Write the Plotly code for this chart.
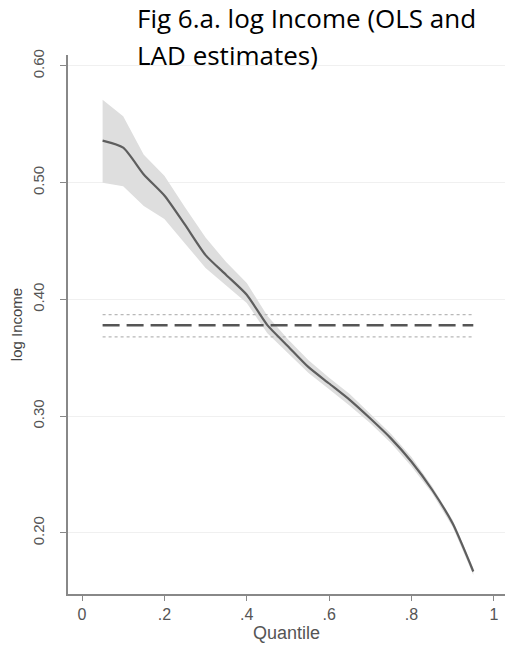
import plotly.graph_objects as go

quantiles = [0.05, 0.10, 0.15, 0.20, 0.25, 0.30, 0.35, 0.40, 0.45, 0.50,
             0.55, 0.60, 0.65, 0.70, 0.75, 0.80, 0.85, 0.90, 0.95]
lad_est = [0.536, 0.530, 0.507, 0.489, 0.464, 0.438, 0.421, 0.404, 0.378, 0.360,
           0.342, 0.328, 0.314, 0.298, 0.281, 0.261, 0.237, 0.208, 0.167]
lad_upper = [0.571, 0.557, 0.524, 0.506, 0.479, 0.453, 0.432, 0.414, 0.386, 0.366,
             0.348, 0.333, 0.319, 0.302, 0.285, 0.265, 0.240, 0.211, 0.170]
lad_lower = [0.500, 0.497, 0.480, 0.469, 0.448, 0.427, 0.412, 0.397, 0.371, 0.354,
             0.337, 0.323, 0.309, 0.294, 0.277, 0.257, 0.234, 0.205, 0.164]
ols_x = [0.05, 0.95]
ols_est = [0.378, 0.378]
ols_upper = [0.387, 0.387]
ols_lower = [0.368, 0.368]

x_tickvals = [0, 0.2, 0.4, 0.6, 0.8, 1]
x_ticktext = ["0", ".2", ".4", ".6", ".8", "1"]
y_tickvals = [0.2, 0.3, 0.4, 0.5, 0.6]
y_ticktext = ["0.20", "0.30", "0.40", "0.50", "0.60"]

fig = go.Figure()

# LAD confidence band
fig.add_trace(go.Scatter(x=quantiles, y=lad_upper, mode="lines",
                         line=dict(width=0, color="rgba(0,0,0,0)"),
                         showlegend=False, hoverinfo="skip"))
fig.add_trace(go.Scatter(x=quantiles, y=lad_lower, mode="lines",
                         line=dict(width=0, color="rgba(0,0,0,0)"),
                         fill="tonexty", fillcolor="#dedede",
                         showlegend=False, hoverinfo="skip"))

# OLS CI dotted lines
fig.add_trace(go.Scatter(x=ols_x, y=ols_upper, mode="lines",
                         line=dict(color="#b8b8b8", width=1.2, dash="dot"),
                         showlegend=False))
fig.add_trace(go.Scatter(x=ols_x, y=ols_lower, mode="lines",
                         line=dict(color="#b8b8b8", width=1.2, dash="dot"),
                         showlegend=False))
# OLS estimate dashed
fig.add_trace(go.Scatter(x=ols_x, y=ols_est, mode="lines",
                         line=dict(color="#555555", width=2.5, dash="17px,7px"),
                         showlegend=False))

# LAD estimate line
fig.add_trace(go.Scatter(x=quantiles, y=lad_est, mode="lines",
                         line=dict(color="#5e5e5e", width=2.2, shape="spline", smoothing=0.6),
                         showlegend=False))

fig.update_layout(
    width=509, height=645,
    margin=dict(l=68, r=4, t=55, b=51),
    paper_bgcolor="white", plot_bgcolor="white",
    font=dict(family="Liberation Sans, Arial, sans-serif", color="#555555"),
    xaxis=dict(range=[-0.034, 1.027], tickvals=x_tickvals, ticktext=x_ticktext,
               showgrid=False, zeroline=False,
               showline=True, linecolor="#888888", linewidth=1.5,
               ticks="outside", ticklen=5, tickcolor="#888888",
               tickfont=dict(size=16, color="#555555"),
               title=dict(text="Quantile", font=dict(size=18, color="#555555"), standoff=0)),
    yaxis=dict(range=[0.1477, 0.6094], tickvals=y_tickvals, ticktext=y_ticktext,
               tickangle=-90,
               showgrid=True, gridcolor="#f0f0f0", gridwidth=1, zeroline=False,
               showline=True, linecolor="#888888", linewidth=1.5,
               ticks="outside", ticklen=6, tickcolor="#888888",
               ticklabelstandoff=10,
               tickfont=dict(size=15, color="#555555"),
               title=dict(text="log Income", font=dict(size=15, color="#444444"), standoff=4)),
    annotations=[
        dict(text="Fig 6.a. log Income (OLS and", xref="paper", yref="paper",
             x=0.153, y=1.069, xanchor="left", yanchor="middle", showarrow=False,
             font=dict(family="Open Sans, Noto Sans, sans-serif", size=26, color="#000000")),
        dict(text="LAD estimates)", xref="paper", yref="paper",
             x=0.153, y=1.0, xanchor="left", yanchor="middle", showarrow=False,
             font=dict(family="Open Sans, Noto Sans, sans-serif", size=26, color="#000000")),
    ],
)

fig.write_html("out.html")
